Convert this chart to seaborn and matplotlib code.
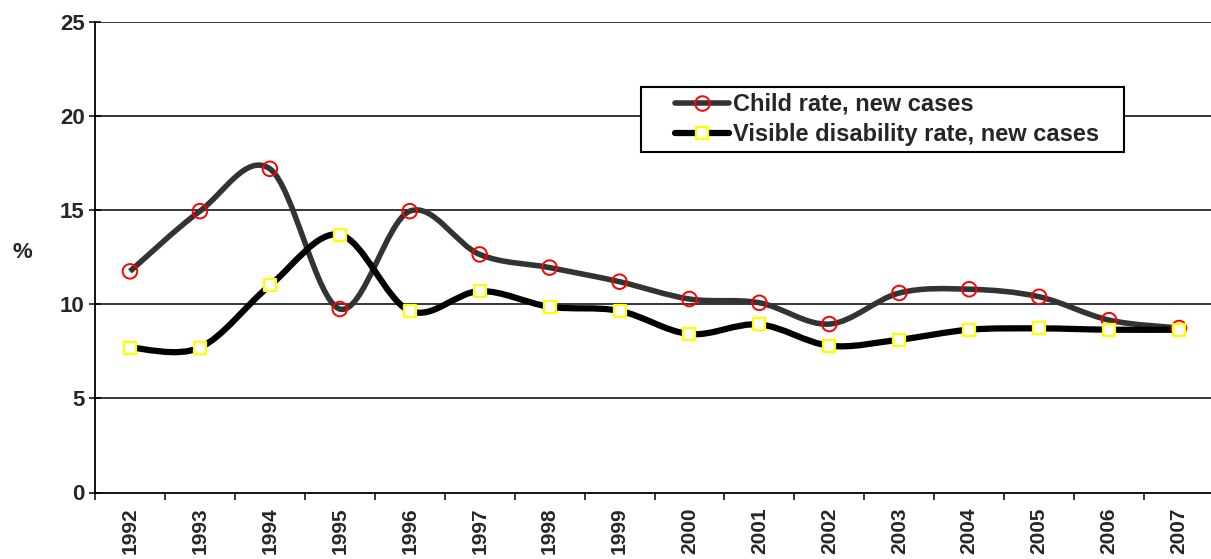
import numpy as np
import pandas as pd
import matplotlib
matplotlib.use("Agg")
import matplotlib.pyplot as plt
from matplotlib.path import Path
from matplotlib.patches import PathPatch, Rectangle
from matplotlib.lines import Line2D
import seaborn as sns

# Rates of new cases, per year (%)
years = ["1992", "1993", "1994", "1995", "1996", "1997", "1998", "1999",
         "2000", "2001", "2002", "2003", "2004", "2005", "2006", "2007"]
child_rate = [11.75, 14.95, 17.2, 9.75, 14.95, 12.65, 11.95, 11.2,
              10.28, 10.08, 8.95, 10.6, 10.8, 10.4, 9.16, 8.74]
visible_rate = [7.7, 7.7, 11.0, 13.7, 9.65, 10.7, 9.87, 9.65,
                8.42, 8.93, 7.8, 8.12, 8.65, 8.72, 8.65, 8.65]
y_ticks = [0, 5, 10, 15, 20, 25]

child_label = "Child rate, new cases"
visible_label = "Visible disability rate, new cases"

sns.set_theme(style="white")
plt.rcParams["font.family"] = ["Liberation Sans", "DejaVu Sans"]
plt.rcParams["font.weight"] = "bold"

df = pd.DataFrame({"year": years, "child": child_rate, "visible": visible_rate})
df["pos"] = np.arange(len(years))

W, H = 1211, 559
fig = plt.figure(figsize=(W / 100, H / 100), dpi=100)
ax = fig.add_axes([95 / W, 1 - 492.5 / H, 1119 / W, 470.5 / H])


def smooth_path(xs, ys):
    """Cubic Bezier path through the points (Catmull-Rom style tangents)."""
    pts = np.column_stack([xs, ys]).astype(float)
    n = len(pts)
    verts = [pts[0]]
    codes = [Path.MOVETO]
    for i in range(n - 1):
        p0 = pts[i - 1] if i > 0 else pts[i]
        p1 = pts[i]
        p2 = pts[i + 1]
        p3 = pts[i + 2] if i + 2 < n else pts[i + 1]
        c1 = p1 + (p2 - p0) / 6.0
        c2 = p2 - (p3 - p1) / 6.0
        verts += [c1, c2, p2]
        codes += [Path.CURVE4] * 3
    return Path(verts, codes)


child_color = "#333333"
visible_color = "#000000"
child_lw = 4.0
visible_lw = 4.5

ax.add_patch(PathPatch(smooth_path(df["pos"], df["child"]), facecolor="none",
                       edgecolor=child_color, lw=child_lw, capstyle="butt",
                       joinstyle="round", zorder=3))
ax.add_patch(PathPatch(smooth_path(df["pos"], df["visible"]), facecolor="none",
                       edgecolor=visible_color, lw=visible_lw, capstyle="butt",
                       joinstyle="round", zorder=3))

sns.scatterplot(data=df, x="pos", y="child", ax=ax, marker="o", s=110,
                facecolor="none", edgecolor="#ff0000", linewidth=1.4,
                zorder=5, legend=False)
sns.scatterplot(data=df, x="pos", y="visible", ax=ax, marker="s", s=85,
                facecolor="white", edgecolor="#ffff00", linewidth=1.6,
                zorder=5, legend=False)

ax.set_xlim(-0.5, len(years) - 0.5)
ax.set_ylim(0, 25)

# Horizontal gridlines
for v in y_ticks[1:]:
    ax.axhline(v, color="black", lw=1.1, zorder=1)

for side in ["top", "right"]:
    ax.spines[side].set_visible(False)
for side in ["left", "bottom"]:
    ax.spines[side].set_color("black")
    ax.spines[side].set_linewidth(1.3)

ax.set_yticks(y_ticks)
ax.set_yticklabels([str(v) for v in y_ticks], fontsize=16, fontweight="bold")
ax.tick_params(axis="y", which="major", direction="inout", length=9,
               width=1.1, color="black", left=True, pad=3)

ax.set_xticks(df["pos"])
ax.set_xticklabels(years, rotation=90, fontsize=15, fontweight="bold")
ax.set_xticks(np.arange(-0.5, len(years), 1.0), minor=True)
ax.tick_params(axis="x", which="major", length=0, pad=11)
ax.tick_params(axis="x", which="minor", direction="out", length=5,
               width=1.1, color="black", bottom=True)

ax.set_xlabel("")
ax.set_ylabel("")
fig.text(22 / W, 1 - 253 / H, "%", fontsize=16, fontweight="bold",
         ha="center", va="center")

# Legend frame
frame = Rectangle((641 / W, 1 - 152 / H), (1124 - 641) / W, (152 - 87) / H,
                  transform=fig.transFigure, facecolor="white",
                  edgecolor="black", lw=1.5, zorder=8)
ax.add_artist(frame)
frame.set_clip_on(False)

handles = [
    Line2D([], [], color=child_color, lw=child_lw, marker="o", markersize=10.5,
           markerfacecolor="none", markeredgecolor="#ff0000",
           markeredgewidth=1.4),
    Line2D([], [], color=visible_color, lw=visible_lw, marker="s", markersize=9,
           markerfacecolor="white", markeredgecolor="#ffff00",
           markeredgewidth=1.6),
]
leg = ax.legend(handles, [child_label, visible_label],
                loc="upper left",
                bbox_to_anchor=(675 / W, 1 - 93 / H),
                bbox_transform=fig.transFigure,
                prop={"family": ["Liberation Sans"], "weight": "bold", "size": 17},
                frameon=False, handlelength=2.3, handletextpad=0.15,
                labelspacing=0.3, borderpad=0, borderaxespad=0)
leg.set_zorder(10)

fig.savefig("out.png", dpi=100)
